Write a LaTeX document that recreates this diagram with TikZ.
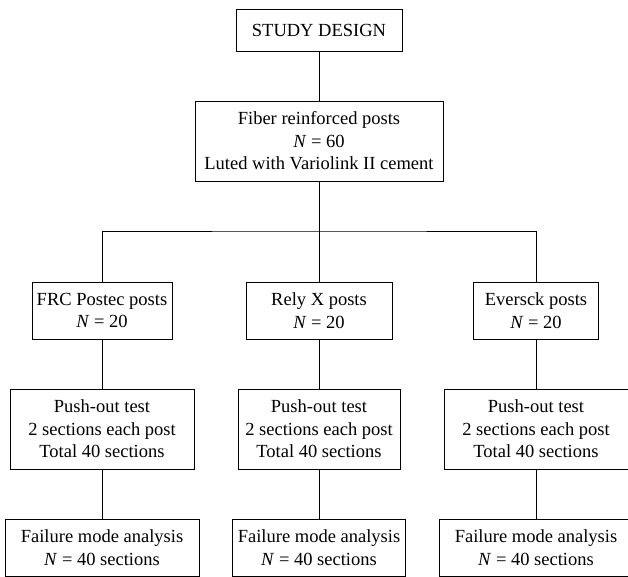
\documentclass[tikz,border=0pt]{standalone}
\usepackage{fontspec}
\setmainfont{Liberation Serif}
\begin{document}
\begin{tikzpicture}[x=1pt,y=1pt,
  box/.style={draw, line width=0.9pt, align=center, inner sep=0pt,
    font=\fontsize{18.5}{22.4}\selectfont},
  conn/.style={line width=0.9pt}]
\useasboundingbox (0,0) rectangle (628,576);
\clip (0,0) rectangle (628,576);
\fill[white] (0,0) rectangle (628,576);
% top
\node[box, minimum width=166, minimum height=42] (top) at (319,546) {STUDY DESIGN};
\node[box, minimum width=248, minimum height=80] (fib) at (319,435) {Fiber reinforced posts\\\textit{N} = 60\\Luted with Variolink II cement};
% row 2
\node[box, minimum width=140, minimum height=57] (frc) at (102,265.5) {FRC Postec posts\\\textit{N} = 20};
\node[box, minimum width=146, minimum height=57] (rly) at (319,265.5) {Rely X posts\\\textit{N} = 20};
\node[box, minimum width=125, minimum height=57] (evr) at (536,265.5) {Eversck posts\\\textit{N} = 20};
% row 3
\node[box, minimum width=184, minimum height=80] (frcp) at (102,147) {Push-out test\\2 sections each post\\Total 40 sections};
\node[box, minimum width=162, minimum height=80] (rlyp) at (319,147) {Push-out test\\2 sections each post\\Total 40 sections};
\node[box, minimum width=184, minimum height=80] (evrp) at (536,147) {Push-out test\\2 sections each post\\Total 40 sections};
% row 4
\node[box, minimum width=194, minimum height=57] (frcf) at (102,28.5) {Failure mode analysis\\\textit{N} = 40 sections};
\node[box, minimum width=173, minimum height=57] (rlyf) at (319,28.5) {Failure mode analysis\\\textit{N} = 40 sections};
\node[box, minimum width=194, minimum height=57] (evrf) at (536,28.5) {Failure mode analysis\\\textit{N} = 40 sections};
% connectors
\coordinate (bus) at (319,345);
\draw[conn] (top) -- (fib);
\draw[conn] (fib.south) -- (bus);
\draw[conn] (frc.north) |- (bus) -| (evr.north);
\draw[conn] (bus) -- (rly.north);
\draw[conn] (frc) -- (frcp);
\draw[conn] (rly) -- (rlyp);
\draw[conn] (evr) -- (evrp);
\draw[conn] (frcp) -- (frcf);
\draw[conn] (rlyp) -- (rlyf);
\draw[conn] (evrp) -- (evrf);
\end{tikzpicture}
\end{document}
